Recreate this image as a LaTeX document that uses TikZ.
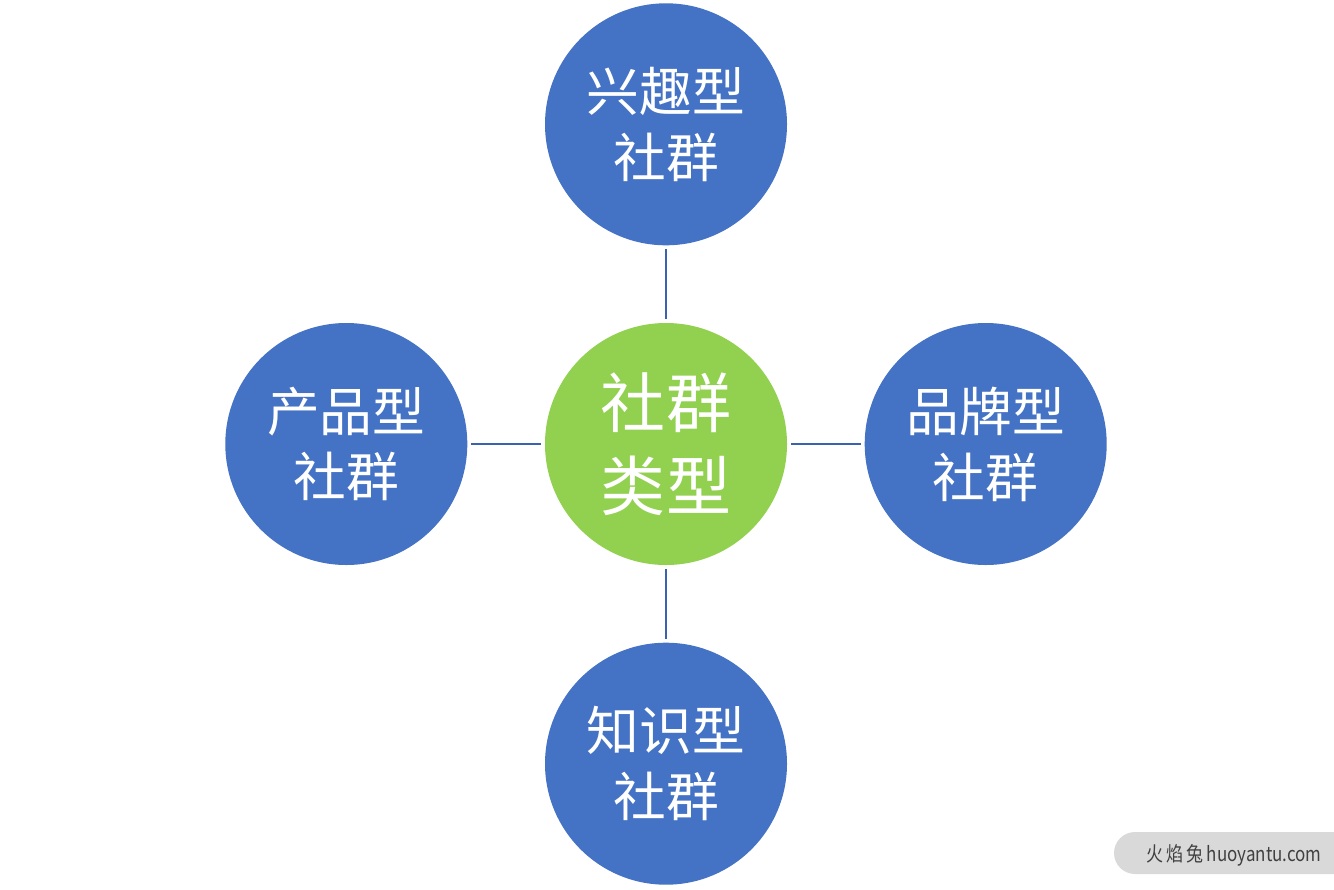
\documentclass[tikz,border=0pt]{standalone}
\usepackage{fontspec}
\setmainfont{Noto Sans CJK SC}
\usepackage{xcolor}
\usepackage{tikz}
\usetikzlibrary{positioning}

\definecolor{typeblue}{HTML}{4472C4}
\definecolor{typegreen}{HTML}{92D050}
\definecolor{linkblue}{HTML}{3A62AE}
\definecolor{markgray}{HTML}{D9D9D9}
\definecolor{marktext}{HTML}{404040}

\begin{document}
\begin{tikzpicture}[
  node distance = 1.54cm,
  hub/.style  = {circle, fill=typegreen, minimum size=4.84cm, inner sep=0pt,
                 text=white, font=\fontsize{37}{47}\selectfont, align=center},
  kind/.style = {circle, fill=typeblue, minimum size=4.84cm, inner sep=0pt,
                 text=white, font=\fontsize{30}{37.5}\selectfont, align=center},
  link/.style = {draw=linkblue, line width=1.1pt, shorten <=2pt, shorten >=2pt},
]
\useasboundingbox (0,0) rectangle (26.68,-17.78);

% centre
\node[hub] (types) at (13.32,-8.88) {社群\\类型};

% four kinds round it
\node[kind, above=of types] (interest)  {兴趣型\\社群};
\node[kind, below=of types] (knowledge) {知识型\\社群};
\node[kind, left=of types]  (product)   {产品型\\社群};
\node[kind, right=of types] (brand)     {品牌型\\社群};

% links
\draw[link] (interest)  -- (types);
\draw[link] (types)     -- (knowledge);
\draw[link] (product)   -- (types);
\draw[link] (types)     -- (brand);

% watermark
\begin{scope}
  \clip (0,0) rectangle (26.68,-17.78);
  \fill[markgray, rounded corners=0.42cm] (22.28,-16.64) rectangle (27.4,-17.48);
\end{scope}
\node[text=marktext, font=\fontsize{11.5}{13}\selectfont, xscale=0.84, inner sep=0pt]
  (mark) at (24.68,-17.1) {火\,焰\,兔 huoyantu.com};
\end{tikzpicture}
\end{document}
